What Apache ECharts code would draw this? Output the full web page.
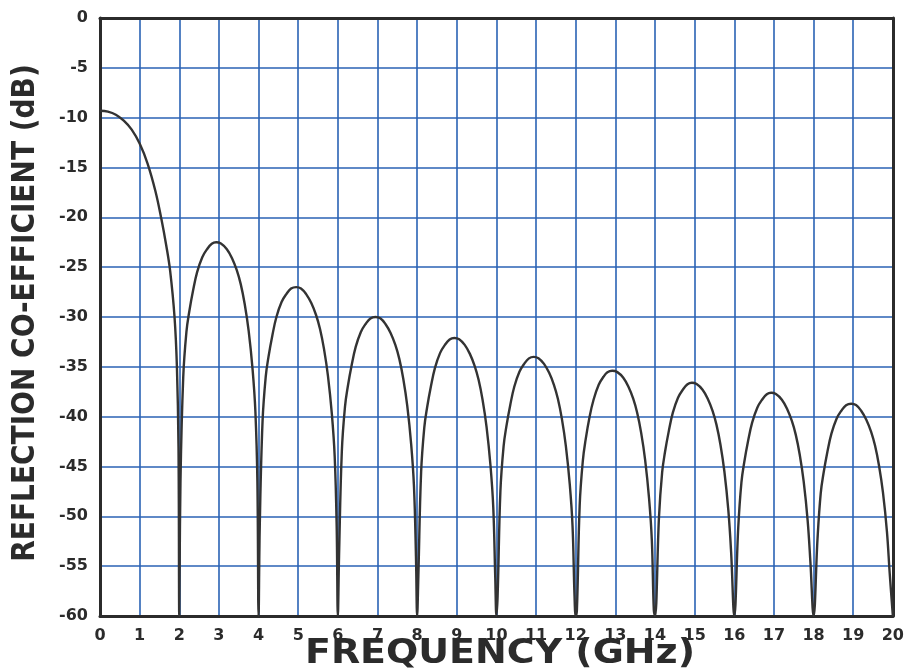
<!DOCTYPE html>
<html>
<head>
<meta charset="utf-8">
<script src="https://cdn.jsdelivr.net/npm/echarts@6/dist/echarts.min.js"></script>
<style>html,body{margin:0;padding:0;background:#fff;}#c{width:907px;height:672px;}</style>
</head>
<body>
<div id="c"></div>
<script>
// Reflection coefficient (dB) vs frequency (GHz), one array per lobe
const lobe0 = [[0,-9.3],[0.2,-9.4],[0.4,-9.7],[0.6,-10.3],[0.8,-11.2],[1.0,-12.6],[1.2,-14.6],[1.4,-17.4],[1.55,-20.2],[1.67,-22.8],[1.77,-25.4],[1.88,-30],[1.94,-35],[1.98,-43]];
const lobe1 = [[2.0,-60],[2.03,-46.5],[2.1,-36],[2.18,-31.5],[2.25,-29.5],[2.35,-27.3],[2.45,-25.5],[2.58,-24],[2.7,-23.2],[2.82,-22.65],[2.93,-22.5],[3.05,-22.63],[3.2,-23.2],[3.33,-24.1],[3.45,-25.3],[3.55,-26.7],[3.65,-28.7],[3.75,-31.4],[3.85,-35.3],[3.92,-39.5],[3.97,-46.5]];
const lobe2 = [[4.0,-60],[4.03,-51],[4.1,-40.5],[4.18,-36],[4.25,-34],[4.35,-31.8],[4.45,-30],[4.58,-28.5],[4.7,-27.7],[4.82,-27.15],[4.95,-27],[5.07,-27.13],[5.2,-27.7],[5.33,-28.6],[5.45,-29.8],[5.55,-31.2],[5.65,-33.2],[5.75,-35.9],[5.85,-39.8],[5.92,-44],[5.97,-51]];
const lobe3 = [[6.0,-60],[6.03,-54],[6.1,-43.5],[6.18,-39],[6.25,-37],[6.35,-34.8],[6.45,-33],[6.58,-31.5],[6.7,-30.7],[6.82,-30.15],[6.95,-30],[7.07,-30.13],[7.2,-30.7],[7.33,-31.6],[7.45,-32.8],[7.55,-34.2],[7.65,-36.2],[7.75,-38.9],[7.85,-42.8],[7.92,-47],[7.97,-54]];
const lobe4 = [[8.0,-60],[8.03,-56.1],[8.1,-45.6],[8.18,-41.1],[8.25,-39.1],[8.35,-36.9],[8.45,-35.1],[8.58,-33.6],[8.7,-32.8],[8.82,-32.25],[8.94,-32.1],[9.06,-32.23],[9.2,-32.8],[9.33,-33.7],[9.45,-34.9],[9.55,-36.3],[9.65,-38.3],[9.75,-41],[9.85,-44.9],[9.92,-49.1],[9.97,-56.1]];
const lobe5 = [[10.0,-60],[10.03,-58],[10.1,-47.5],[10.18,-43],[10.25,-41],[10.35,-38.8],[10.45,-37],[10.58,-35.5],[10.7,-34.7],[10.82,-34.15],[10.94,-34],[11.06,-34.13],[11.2,-34.7],[11.33,-35.6],[11.45,-36.8],[11.55,-38.2],[11.65,-40.2],[11.75,-42.9],[11.85,-46.8],[11.92,-51],[11.97,-58]];
const lobe6 = [[12.0,-60],[12.03,-59.4],[12.1,-48.9],[12.18,-44.4],[12.25,-42.3],[12.35,-40.0],[12.45,-38.3],[12.58,-36.8],[12.7,-36.0],[12.8,-35.55],[12.92,-35.4],[13.05,-35.53],[13.2,-36.1],[13.33,-37],[13.45,-38.2],[13.55,-39.6],[13.65,-41.6],[13.75,-44.3],[13.85,-48.2],[13.92,-52.4],[13.97,-59.4]];
const lobe7 = [[14.0,-60],[14.1,-50.1],[14.18,-45.6],[14.25,-43.6],[14.35,-41.4],[14.45,-39.6],[14.58,-38.1],[14.7,-37.3],[14.82,-36.75],[14.93,-36.6],[15.05,-36.73],[15.2,-37.3],[15.33,-38.2],[15.45,-39.4],[15.55,-40.8],[15.65,-42.8],[15.75,-45.5],[15.85,-49.4],[15.92,-53.6]];
const lobe8 = [[16.0,-60],[16.1,-51.1],[16.18,-46.6],[16.25,-44.6],[16.35,-42.4],[16.45,-40.6],[16.58,-39.1],[16.7,-38.3],[16.82,-37.75],[16.93,-37.6],[17.05,-37.73],[17.2,-38.3],[17.33,-39.2],[17.45,-40.4],[17.55,-41.8],[17.65,-43.8],[17.75,-46.5],[17.85,-50.4],[17.92,-54.6]];
const lobe9 = [[18.0,-60],[18.1,-52.2],[18.18,-47.7],[18.25,-45.7],[18.35,-43.5],[18.45,-41.7],[18.58,-40.2],[18.7,-39.4],[18.82,-38.85],[18.95,-38.7],[19.07,-38.83],[19.2,-39.4],[19.33,-40.3],[19.45,-41.5],[19.55,-42.9],[19.65,-44.9],[19.75,-47.6],[19.85,-51.5],[19.92,-55.7],[20.0,-60]];

const xTitle = 'FREQUENCY (GHz)';
const yTitle = 'REFLECTION CO-EFFICIENT (dB)';
const xRange = [0, 20, 1];
const yRange = [-60, 0, 5];

const curve = [].concat(lobe0, lobe1, lobe2, lobe3, lobe4, lobe5, lobe6, lobe7, lobe8, lobe9);

const gridBlue = '#2a62b4';
const ink = '#2b2b2b';
const labelStyle = { fontFamily: '"DejaVu Sans"', fontWeight: 'bold', fontSize: 16, color: ink };

const chart = echarts.init(document.getElementById('c'), null, { renderer: 'canvas' });
chart.setOption({
  animation: false,
  backgroundColor: '#ffffff',
  grid: { left: 100, right: 10, top: 18, bottom: 56, containLabel: false },
  xAxis: [
    {
      type: 'value', min: xRange[0], max: xRange[1], interval: xRange[2],
      axisLine: { show: true, onZero: false, lineStyle: { color: ink, width: 3 } },
      axisTick: { show: false },
      axisLabel: Object.assign({ margin: 12 }, labelStyle),
      splitLine: { show: true, lineStyle: { color: gridBlue, width: 1.6 } }
    },
    {
      type: 'value', position: 'top', min: xRange[0], max: xRange[1], interval: xRange[2],
      axisLine: { show: true, onZero: false, lineStyle: { color: ink, width: 3 } },
      axisTick: { show: false }, axisLabel: { show: false }, splitLine: { show: false }
    }
  ],
  yAxis: [
    {
      type: 'value', min: yRange[0], max: yRange[1], interval: yRange[2],
      axisLine: { show: true, onZero: false, lineStyle: { color: ink, width: 3 } },
      axisTick: { show: false },
      axisLabel: Object.assign({ margin: 12 }, labelStyle),
      splitLine: { show: true, lineStyle: { color: gridBlue, width: 1.6 } }
    },
    {
      type: 'value', position: 'right', min: yRange[0], max: yRange[1], interval: yRange[2],
      axisLine: { show: true, onZero: false, lineStyle: { color: ink, width: 3 } },
      axisTick: { show: false }, axisLabel: { show: false }, splitLine: { show: false }
    }
  ],
  series: [{
    type: 'line',
    data: curve,
    xAxisIndex: 0, yAxisIndex: 0,
    smooth: 0.4,
    showSymbol: false,
    clip: true,
    lineStyle: { color: '#333333', width: 2.4, join: 'round' },
    z: 3
  }],
  graphic: [
    {
      type: 'text', x: 500, y: 654, scaleX: 1.15,
      style: { text: xTitle, font: 'bold 33px "DejaVu Sans"', fill: ink, align: 'center', verticalAlign: 'middle' }
    },
    {
      type: 'text', x: 26, y: 313, rotation: Math.PI / 2, scaleY: 1.15,
      style: { text: yTitle, font: 'bold 28px "DejaVu Sans"', fill: ink, align: 'center', verticalAlign: 'middle' }
    }
  ]
});
</script>
</body>
</html>
